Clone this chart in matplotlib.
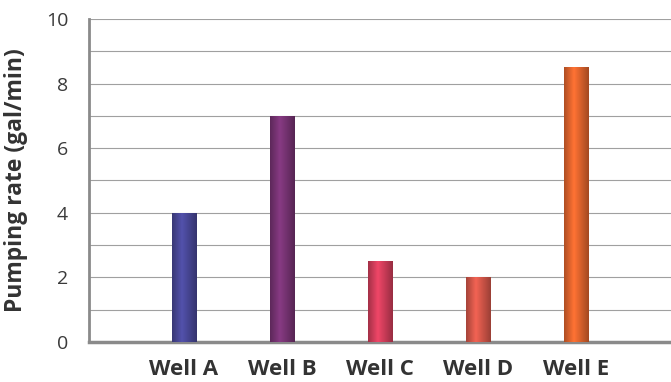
import matplotlib
matplotlib.use("Agg")
import matplotlib.pyplot as plt
import numpy as np
from matplotlib.colors import to_rgb

wells = ["Well A", "Well B", "Well C", "Well D", "Well E"]
rates = [4.0, 7.0, 2.5, 2.0, 8.5]
colors = ["#4b4a9c", "#7b3577", "#d9405e", "#dc5a4c", "#e8682f"]
yticks = [0, 2, 4, 6, 8, 10]

plt.rcParams["font.family"] = ["Open Sans", "DejaVu Sans"]

fig = plt.figure(figsize=(6.71, 3.82), dpi=100)
ax = fig.add_axes([89 / 671, 1 - 342 / 382, 1 - 89 / 671, (342 - 19) / 382])

x = np.arange(len(wells))
width = 0.25
bars = ax.bar(x, rates, width=width, color=colors, zorder=3)

# cylinder-like shading across each bar
shade = np.concatenate([np.linspace(0.75, 1.1, 40), np.linspace(1.1, 0.7, 60)])
for b, c in zip(bars, colors):
    rgb = np.array(to_rgb(c))
    img = np.clip(shade[None, :, None] * rgb[None, None, :], 0, 1)
    x0, y0 = b.get_x(), b.get_y()
    im = ax.imshow(img, extent=[x0, x0 + b.get_width(), y0, y0 + b.get_height()],
                   aspect="auto", zorder=4, interpolation="bilinear")
    im.set_clip_path(b)

ax.set_xlim(-0.97, 4.97)
ax.set_ylim(0, 10)
ax.set_yticks(yticks)
ax.set_yticks(np.arange(0, 11, 1), minor=True)
ax.yaxis.grid(True, which="both", color="#a0a0a0", linewidth=0.8, zorder=1)
ax.tick_params(axis="y", which="both", length=0, pad=15, labelsize=14, labelcolor="#3a3a3a")
ax.set_xticks(x)
ax.set_xticklabels(wells, fontsize=16, fontweight="bold", color="#333333")
ax.tick_params(axis="x", length=0, pad=12)

ax.set_ylabel("Pumping rate (gal/min)", fontsize=16.5, fontweight="bold", color="#333333", labelpad=13)

for side in ["top", "right"]:
    ax.spines[side].set_visible(False)
ax.spines["left"].set_color("#8a8a8a")
ax.spines["left"].set_linewidth(2)
ax.spines["bottom"].set_color("#8a8a8a")
ax.spines["bottom"].set_linewidth(2.5)

fig.savefig("out.png", dpi=100, facecolor="white")
